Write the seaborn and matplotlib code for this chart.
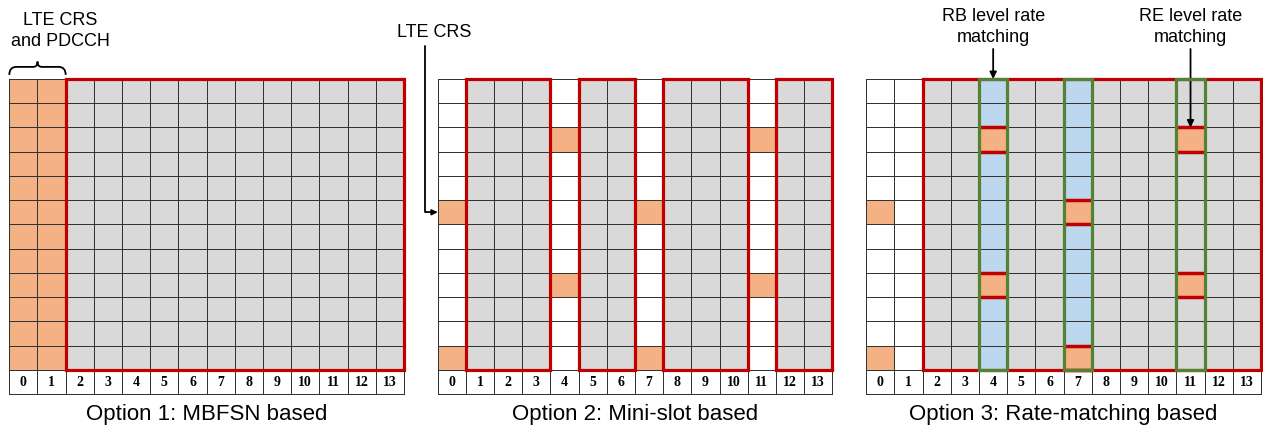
import numpy as np
import matplotlib
matplotlib.use("Agg")
import matplotlib.pyplot as plt
import seaborn as sns
from matplotlib.colors import ListedColormap
from matplotlib.patches import Rectangle, PathPatch
from matplotlib.path import Path

# ----- dados da grade (14 simbolos x 12 subportadoras) -----
SIMBOLOS = list(range(14))
N_SUB = 12

# Opcao 1: MBSFN
COLS_CRS_PDCCH = [0, 1]
REGIAO_NR_1 = [(2, 13)]

# Opcao 2 / 3: posicoes dos LTE CRS (coluna -> linhas)
CRS_COLS = [0, 4, 7, 11]
CRS_LINHAS = [[5, 11], [2, 8], [5, 11], [2, 8]]
MINISLOTS = [(1, 3), (5, 6), (8, 10), (12, 13)]

# Opcao 3: rate matching
REGIAO_NR_3 = [(2, 13)]
COLS_RB_RM = [4, 7]
COLS_RE_RM = [11]

TITULOS = ["Option 1: MBFSN based", "Option 2: Mini-slot based",
           "Option 3: Rate-matching based"]

BRANCO, CINZA, LARANJA, AZUL = 0, 1, 2, 3
CORES = ["#FFFFFF", "#D9D9D9", "#F4B183", "#BDD7EE"]
VERMELHO = "#C00000"
VERDE = "#548235"


def grade_base():
    g = np.full((N_SUB + 1, len(SIMBOLOS)), BRANCO)
    return g


def marcar_crs(g):
    for col, linhas in zip(CRS_COLS, CRS_LINHAS):
        g[linhas, col] = LARANJA


def desenhar(ax, g, titulo):
    anot = np.full(g.shape, "", dtype=object)
    anot[-1, :] = [str(s) for s in SIMBOLOS]
    sns.heatmap(g, ax=ax, cmap=ListedColormap(CORES), vmin=-0.5, vmax=3.5,
                cbar=False, xticklabels=False, yticklabels=False,
                linewidths=0.6, linecolor="#333333",
                annot=anot, fmt="",
                annot_kws={"family": "Liberation Serif", "weight": "bold",
                           "size": 10, "color": "black"})
    ax.collections[0].set_clip_on(False)
    ax.text(0.5, -0.063, titulo, transform=ax.transAxes, ha="center",
            va="center", fontsize=16)


def caixa(ax, lo, hi, cor, z=3):
    ax.add_patch(Rectangle((lo, 0), hi - lo + 1, N_SUB, fill=False, ec=cor,
                           lw=2.3, clip_on=False, zorder=z))


plt.rcParams["font.family"] = ["Liberation Sans", "DejaVu Sans"]
fig = plt.figure(figsize=(12.63, 4.31), dpi=100)
lefts = [9.3, 437.7, 866.3]
axes = [fig.add_axes([l / 1263, 36 / 431, 394.7 / 1263, 315 / 431]) for l in lefts]

# ----- Opcao 1 -----
g1 = grade_base()
for lo, hi in REGIAO_NR_1:
    g1[:N_SUB, lo:hi + 1] = CINZA
g1[:N_SUB, COLS_CRS_PDCCH] = LARANJA
desenhar(axes[0], g1, TITULOS[0])
for lo, hi in REGIAO_NR_1:
    caixa(axes[0], lo, hi, VERMELHO)

# chave sobre as colunas 0-1
a = min(COLS_CRS_PDCCH)
b = max(COLS_CRS_PDCCH) + 1
m = (a + b) / 2
verts = [(a, -0.17), (a, -0.5), (a + 0.25, -0.5), (m - 0.15, -0.5),
         (m, -0.5), (m, -0.72), (m, -0.5), (m + 0.15, -0.5),
         (b - 0.25, -0.5), (b, -0.5), (b, -0.17)]
codes = [Path.MOVETO, Path.CURVE3, Path.CURVE3, Path.LINETO,
         Path.CURVE3, Path.CURVE3, Path.CURVE3, Path.CURVE3,
         Path.LINETO, Path.CURVE3, Path.CURVE3]
axes[0].add_patch(PathPatch(Path(verts, codes), fill=False, lw=1.3,
                            ec="black", clip_on=False))
axes[0].text(1.8, -2.02, "LTE CRS\nand PDCCH", ha="center", va="center",
             fontsize=13, linespacing=1.25)

# ----- Opcao 2 -----
g2 = grade_base()
for lo, hi in MINISLOTS:
    g2[:N_SUB, lo:hi + 1] = CINZA
marcar_crs(g2)
desenhar(axes[1], g2, TITULOS[1])
for lo, hi in MINISLOTS:
    caixa(axes[1], lo, hi, VERMELHO)
axes[1].text(-0.13, -1.98, "LTE CRS", ha="center", va="center", fontsize=13)
axes[1].annotate("", xy=(0, CRS_LINHAS[0][0] + 0.5), xytext=(-0.45, -1.36),
                 annotation_clip=False,
                 arrowprops=dict(arrowstyle="-|>", lw=1.3, color="black",
                                 mutation_scale=8, shrinkA=0, shrinkB=0,
                                 connectionstyle="angle,angleA=90,angleB=0,rad=0"))

# ----- Opcao 3 -----
g3 = grade_base()
for lo, hi in REGIAO_NR_3:
    g3[:N_SUB, lo:hi + 1] = CINZA
g3[:N_SUB, COLS_RB_RM] = AZUL
marcar_crs(g3)
desenhar(axes[2], g3, TITULOS[2])
for lo, hi in REGIAO_NR_3:
    caixa(axes[2], lo, hi, VERMELHO)
for col, linhas in zip(CRS_COLS, CRS_LINHAS):
    if col in COLS_RB_RM + COLS_RE_RM:
        for r in linhas:
            axes[2].hlines([r, r + 1], col, col + 1, color=VERMELHO, lw=2.5,
                           zorder=3, clip_on=False)
for col in COLS_RB_RM + COLS_RE_RM:
    caixa(axes[2], col, col, VERDE, z=4)

seta = dict(arrowstyle="-|>", lw=1.3, color="black", mutation_scale=10,
            shrinkA=0, shrinkB=0)
c_rb = COLS_RB_RM[0]
axes[2].text(c_rb + 0.5, -2.19, "RB level rate\nmatching", ha="center",
             va="center", fontsize=13, linespacing=1.25)
axes[2].annotate("", xy=(c_rb + 0.5, 0), xytext=(c_rb + 0.5, -1.24),
                 annotation_clip=False, arrowprops=seta)
c_re = COLS_RE_RM[0]
r_re = CRS_LINHAS[CRS_COLS.index(c_re)][0]
axes[2].text(c_re + 0.5, -2.19, "RE level rate\nmatching", ha="center",
             va="center", fontsize=13, linespacing=1.25)
axes[2].annotate("", xy=(c_re + 0.5, r_re), xytext=(c_re + 0.5, -1.24),
                 annotation_clip=False, arrowprops=seta)

fig.savefig("out.png", dpi=100)
